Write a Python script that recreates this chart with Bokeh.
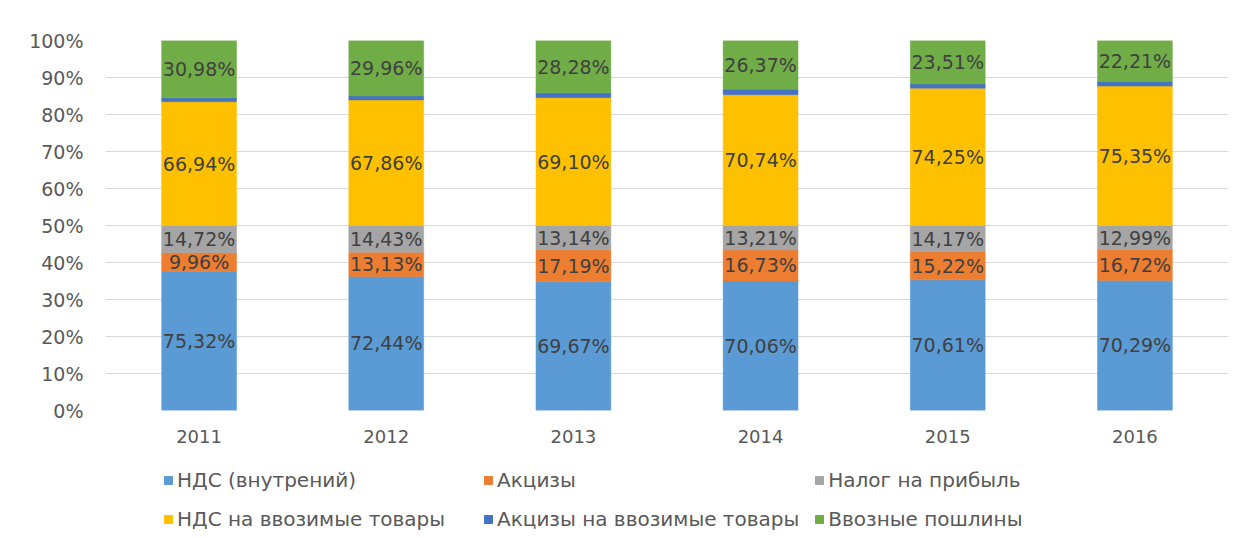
from bokeh.plotting import figure
from bokeh.models import ColumnDataSource, NumeralTickFormatter, Legend, LegendItem, FixedTicker, Range1d
from bokeh.layouts import column
from bokeh.core.properties import value
from bokeh.embed import file_html
from bokeh.resources import INLINE

years = ["2011", "2012", "2013", "2014", "2015", "2016"]
nds_vn = [75.32, 72.44, 69.67, 70.06, 70.61, 70.29]
akciz = [9.96, 13.13, 17.19, 16.73, 15.22, 16.72]
nalog = [14.72, 14.43, 13.14, 13.21, 14.17, 12.99]
nds_imp = [66.94, 67.86, 69.10, 70.74, 74.25, 75.35]
akciz_imp = [2.08, 2.18, 2.62, 2.89, 2.24, 2.44]
poshl = [30.98, 29.96, 28.28, 26.37, 23.51, 22.21]

series = [
    ("nds_vn", "НДС (внутрений)", nds_vn, "#5B9BD5", True),
    ("akciz", "Акцизы", akciz, "#ED7D31", True),
    ("nalog", "Налог на прибыль", nalog, "#A5A5A5", True),
    ("nds_imp", "НДС на ввозимые товары", nds_imp, "#FFC000", True),
    ("akciz_imp", "Акцизы на ввозимые товары", akciz_imp, "#4472C4", False),
    ("poshl", "Ввозные пошлины", poshl, "#70AD47", True),
]

total = [sum(s[2][i] for s in series) for i in range(len(years))]

data = {"years": years}
for key, _, vals, _, _ in series:
    data[key] = [v / t for v, t in zip(vals, total)]
src = ColumnDataSource(data)

FONT = "DejaVu Sans"

p = figure(x_range=years, y_range=(0, 1), width=1240, height=458,
           output_backend="svg", toolbar_location=None,
           min_border_left=105, min_border_right=12, min_border_top=40, min_border_bottom=48)

keys = [s[0] for s in series]
p.vbar_stack(keys, x="years", width=0.4, source=src,
             color=[s[3] for s in series], line_width=0.5)

# labels
lx, ly, lt = [], [], []
for i, y in enumerate(years):
    base = 0.0
    for key, _, vals, _, show in series:
        h = data[key][i]
        if show:
            lx.append(y)
            ly.append(base + h / 2)
            lt.append(f"{vals[i]:.2f}".replace(".", ",") + "%")
        base += h
p.text(x=lx, y=ly, text=lt, text_align="center", text_baseline="middle",
       text_font=value(FONT), text_font_size="19px", text_color="#404040")

p.yaxis.ticker = FixedTicker(ticks=[i / 10 for i in range(11)])
p.yaxis.formatter = NumeralTickFormatter(format="0%")
for ax in (p.xaxis[0], p.yaxis[0]):
    ax.axis_line_color = None
    ax.major_tick_line_color = None
    ax.minor_tick_line_color = None
    ax.major_label_text_font = FONT
    ax.major_label_text_color = "#595959"
p.yaxis.major_label_text_font_size = "19px"
p.xaxis.major_label_text_font_size = "18px"
p.yaxis.major_label_standoff = 16
p.xaxis.major_label_standoff = 13

p.xgrid.grid_line_color = None
p.ygrid.grid_line_color = "#D9D9D9"
p.outline_line_color = None
p.x_range.range_padding = 0

# legend figure
lg = figure(width=1240, height=80, output_backend="svg", toolbar_location=None,
            x_range=Range1d(0, 1), y_range=Range1d(0, 1),
            min_border_left=105, min_border_right=12, min_border_top=0, min_border_bottom=0)
lg.axis.visible = False
lg.grid.visible = False
lg.outline_line_color = None
rends = {}
for key, label, _, col, _ in series:
    rends[key] = lg.rect(x=[-10], y=[-10], width=1, height=1, color=col)
order = [0, 3, 1, 4, 2, 5]
items = [LegendItem(label=series[i][1], renderers=[rends[series[i][0]]]) for i in order]
legend = Legend(items=items, ncols=3, location=(58, 7),
                label_text_font=FONT, label_text_font_size="20px", label_text_color="#595959",
                glyph_width=10, glyph_height=10, label_standoff=4,
                label_width=291, label_height=24, spacing=15,
                padding=0, margin=0, border_line_color=None, background_fill_alpha=0)
lg.add_layout(legend, "center")

layout = column(p, lg, spacing=0)
open("out.html", "w").write(file_html(layout, INLINE))
